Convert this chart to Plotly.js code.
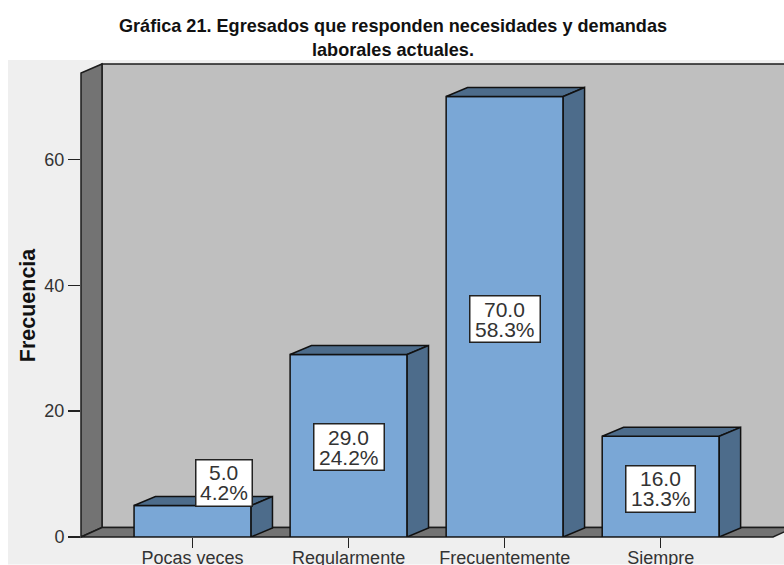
<!DOCTYPE html>
<html><head><meta charset="utf-8">
<script src="https://cdn.plot.ly/plotly-3.0.1.min.js"></script>
<style>html,body{margin:0;padding:0;background:#fff;overflow:hidden}</style></head>
<body><div id="chart" style="width:784px;height:565px"></div>
<script>
const categories = ["Pocas veces", "Regularmente", "Frecuentemente", "Siempre"];
const counts = [5, 29, 70, 16];
const percents = ["4.2%", "24.2%", "58.3%", "13.3%"];
const countLabels = ["5.0", "29.0", "70.0", "16.0"];
const labelX = [0.2, 0, 0, 0];
const labelY = [8.6, 14.3, 34.6, 7.7];
const boxWidths = [55, 69, 69, 68];
const yTicks = [0, 20, 40, 60];
const barWidth = 0.75, dx = 0.137, dy = 1.43;
const xMin = -0.715, xMax = 3.79, yMax = 75.8;
const PL = 81, PB = 537.5, PW = 703, PH = 477.5;
const FONT = 'Liberation Sans';

const poly = (xs, ys, fill) => ({type:'scatter', mode:'lines', x:xs.concat(xs[0]), y:ys.concat(ys[0]),
  fill:'toself', fillcolor:fill, line:{color:'#111', width:1.5}, hoverinfo:'skip', showlegend:false, cliponaxis:false});
const wall = (pts, fill, lw) => ({type:'path', xref:'paper', yref:'paper', layer:'below',
  path:'M' + pts.map(p => ((p[0]-PL)/PW) + ',' + ((PB-p[1])/PH)).join(' L') + ' Z',
  fillcolor:fill, line:{color:'#1c1c1c', width:lw}});

const traces = [{type:'bar', x:categories.map((c,i)=>i), y:counts, width:barWidth,
  marker:{color:'#7aa7d6', line:{color:'#111', width:1.5}}, hoverinfo:'skip', showlegend:false}];
categories.forEach((c, i) => {
  const l = i - barWidth/2, r = i + barWidth/2, v = counts[i];
  traces.push(poly([l, r, r+dx, l+dx], [v, v, v+dy, v+dy], '#4d6c8b'));
  traces.push(poly([r, r+dx, r+dx, r], [0, dy, v+dy, v], '#4d6c8b'));
});

const annotations = [{text:'<b>Frecuencia</b>', xref:'paper', yref:'paper', x:(27.5-PL)/PW, y:(PB-305)/PH, textangle:-90, showarrow:false,
  xanchor:'center', yanchor:'middle', font:{family:FONT, size:21.5, color:'#111'}}];
categories.forEach((c, i) => {
  const base = {x:i+labelX[i], y:labelY[i], xref:'x', yref:'y', showarrow:false};
  annotations.push(Object.assign({}, base, {text:' ', width:boxWidths[i], height:45, bgcolor:'#fff', bordercolor:'#222', borderwidth:1.5, borderpad:0,
    font:{family:FONT, size:10}}));
  annotations.push(Object.assign({}, base, {text:countLabels[i], yshift:10, font:{family:FONT, size:21, color:'#333'}}));
  annotations.push(Object.assign({}, base, {text:percents[i], yshift:-10, font:{family:FONT, size:21, color:'#333'}}));
});

const shapes = [
  {type:'rect', xref:'paper', yref:'paper', layer:'below', x0:(8-PL)/PW, x1:1, y0:(PB-565)/PH, y1:(PB-60)/PH, fillcolor:'#efefef', line:{width:0}},
  wall([[102,64],[810,64],[810,528],[102,528]], '#bfbfbf', 1.5),
  wall([[81,PB],[102,528],[102,64],[81,73]], '#737373', 1.5),
  wall([[81,PB],[773,PB],[794,528],[102,528]], '#737373', 1.5)
];

Plotly.newPlot('chart', traces, {
  width:784, height:565, paper_bgcolor:'#fff', plot_bgcolor:'rgba(0,0,0,0)', showlegend:false,
  margin:{l:PL, r:0, t:60, b:27.5},
  title:{text:'Gráfica 21. Egresados que responden necesidades y demandas<br>laborales actuales.',
    font:{family:FONT, size:18.1, color:'#111', weight:'bold'}, x:393/784, xanchor:'center', y:0.943, yanchor:'bottom'},
  xaxis:{range:[xMin, xMax], tickmode:'array', tickvals:categories.map((c,i)=>i), ticktext:categories, ticks:'outside', ticklen:10, tickwidth:1.5, tickcolor:'#222',
    ticklabelstandoff:-6, showgrid:false, zeroline:false, showline:false, tickfont:{family:FONT, size:18, color:'#333'}},
  yaxis:{range:[0, yMax], tickmode:'array', tickvals:yTicks, ticks:'outside', ticklen:12, tickwidth:1.5, tickcolor:'#222',
    showgrid:false, zeroline:false, showline:false, tickfont:{family:FONT, size:18, color:'#333'}},
  shapes, annotations
}, {displayModeBar:false, staticPlot:true});
</script></body></html>
